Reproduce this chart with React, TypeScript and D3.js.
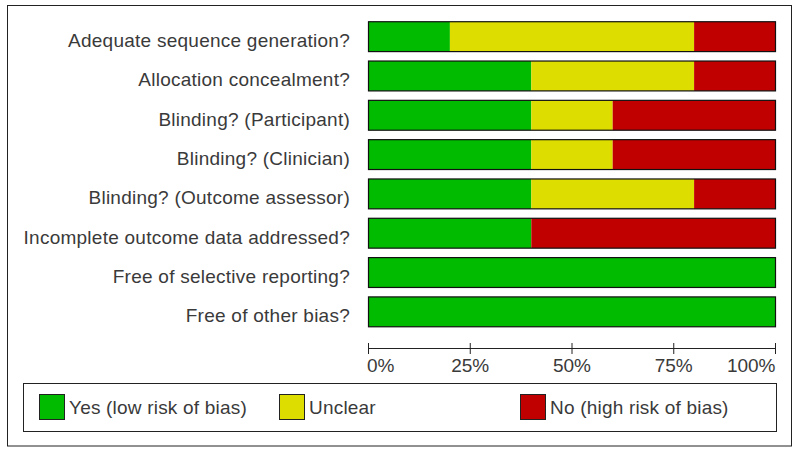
import React from "react";
import * as d3 from "d3";

const categories = [
  "Adequate sequence generation?",
  "Allocation concealment?",
  "Blinding? (Participant)",
  "Blinding? (Clinician)",
  "Blinding? (Outcome assessor)",
  "Incomplete outcome data addressed?",
  "Free of selective reporting?",
  "Free of other bias?",
];
const yesValues = [20, 40, 40, 40, 40, 40, 100, 100];
const unclearValues = [60, 40, 20, 20, 40, 0, 0, 0];
const noValues = [20, 20, 40, 40, 20, 60, 0, 0];
const tickValues = [0, 25, 50, 75, 100];
const legendLabels = ["Yes (low risk of bias)", "Unclear", "No (high risk of bias)"];
const colors = ["#00bb00", "#dddd00", "#c00000"];

export default function App() {
  const W = 800, H = 454;
  const x = d3.scaleLinear().domain([0, 100]).range([368.5, 775.5]);
  const y = d3.scaleBand().domain(categories).range([17, 331.5]).paddingInner(0.24).paddingOuter(0.12);
  const series = [yesValues, unclearValues, noValues];
  const font = "'Liberation Sans', Arial, sans-serif";
  const textColor = "#3a3a3a";
  const axisY = 348.5;
  const legendX = [39, 279, 520];
  return (
    <svg width={W} height={H} style={{ position: "absolute", left: 0, top: 0 }} fontFamily={font}>
      <rect x={0} y={0} width={W} height={H} fill="#fff" />
      <rect x={7.5} y={5.5} width={784} height={440.5} fill="none" stroke="#222" strokeWidth={1} />
      {categories.map((c, i) => {
        let acc = 0;
        const y0 = y(c)!;
        return (
          <g key={c}>
            <text x={350} y={y0 + y.bandwidth() / 2 + 10.5} textAnchor="end" fontSize={19} letterSpacing={0.25} fill={textColor}>{c}</text>
            {series.map((s, k) => {
              const v = s[i];
              const x0 = x(acc);
              acc += v;
              if (v <= 0) return null;
              return <rect key={k} x={x0} y={y0} width={x(acc) - x0} height={y.bandwidth()} fill={colors[k]} />;
            })}
            <rect x={x(0)} y={y0} width={x(100) - x(0)} height={y.bandwidth()} fill="none" stroke="#111" strokeWidth={1.2} />
          </g>
        );
      })}
      <line x1={x(0)} x2={x(100)} y1={axisY} y2={axisY} stroke="#222" />
      {tickValues.map((t) => (
        <g key={t}>
          <line x1={x(t)} x2={x(t)} y1={343} y2={354} stroke="#222" />
          <text x={t === 0 ? x(t) - 1.5 : x(t)} y={371.5} textAnchor={t === 0 ? "start" : t === 100 ? "end" : "middle"} fontSize={19} fill={textColor}>{t}%</text>
        </g>
      ))}
      <rect x={23.5} y={383.5} width={753} height={48} fill="none" stroke="#222" />
      {legendLabels.map((l, k) => (
        <g key={l}>
          <rect x={legendX[k] + 0.5} y={394.5} width={25} height={25} fill={colors[k]} stroke="#222" />
          <text x={legendX[k] + 30} y={414} fontSize={19} letterSpacing={0.2} fill={textColor}>{l}</text>
        </g>
      ))}
    </svg>
  );
}
